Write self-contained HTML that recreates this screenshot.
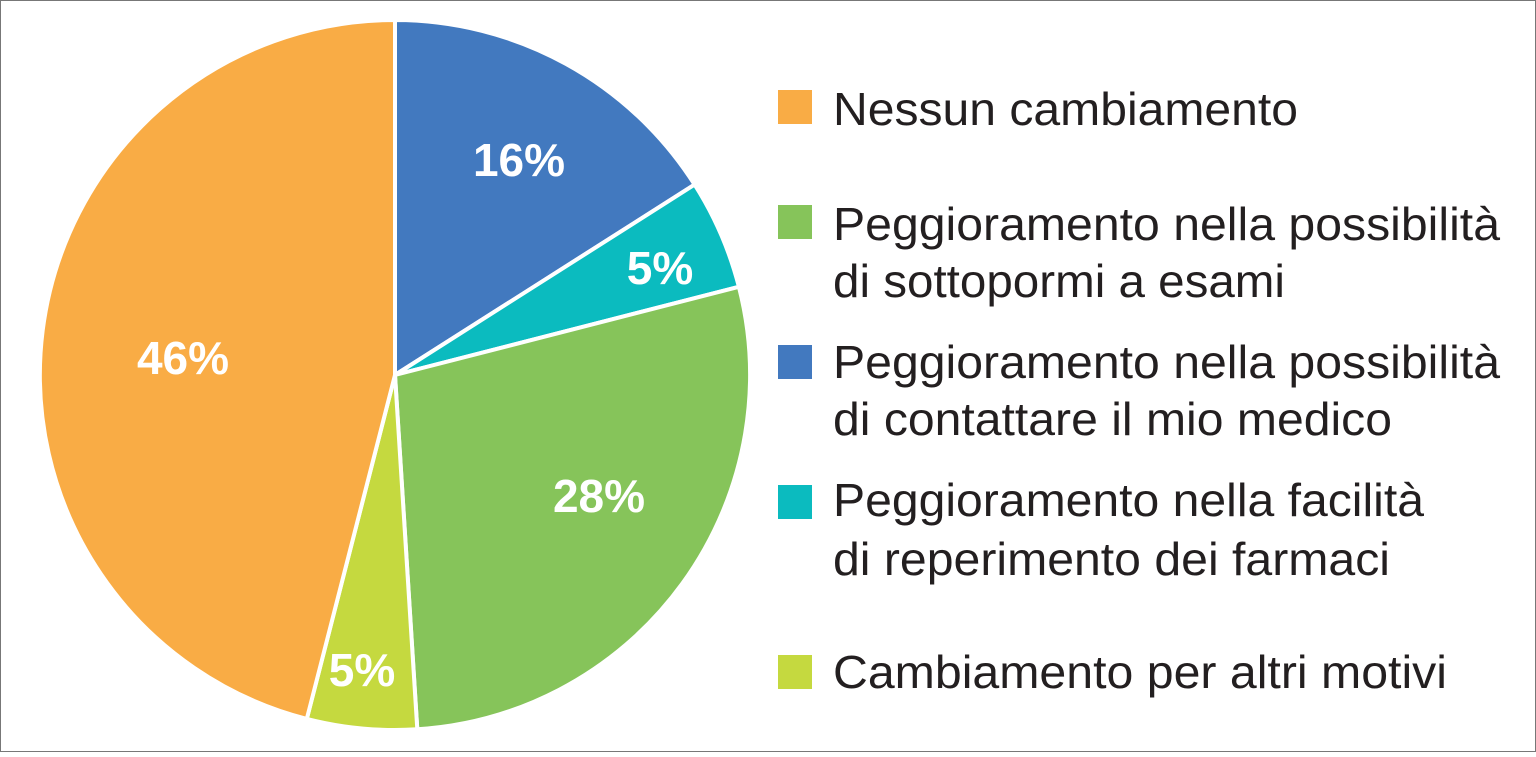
<!DOCTYPE html>
<html><head><meta charset="utf-8"><style>
html,body{margin:0;padding:0;background:#fff}
body{width:1536px;height:752px;overflow:hidden}
</style></head><body>
<svg width="1536" height="752" viewBox="0 0 1536 752" xmlns="http://www.w3.org/2000/svg" font-family="Liberation Sans, sans-serif">
<rect x="0.5" y="0.5" width="1535" height="751" fill="#fff" stroke="#777" stroke-width="1"/>
<g stroke="#fff" stroke-width="4" stroke-linejoin="round">
<path d="M395,375 L395,20 A355,355 0 0 1 694.6,184.6 Z" fill="#4279BF"/>
<path d="M395,375 L694.6,184.6 A355,355 0 0 1 738.9,286.8 Z" fill="#0BBBBF"/>
<path d="M395,375 L738.9,286.8 A355,355 0 0 1 417.3,729.3 Z" fill="#86C45A"/>
<path d="M395,375 L417.3,729.3 A355,355 0 0 1 306.8,718.9 Z" fill="#C5D93F"/>
<path d="M395,375 L306.8,718.9 A355,355 0 0 1 395,20 Z" fill="#F9AC45"/>
</g>
<g fill="#fff" font-weight="bold" font-size="46" text-anchor="middle">
<text x="519" y="176">16%</text>
<text x="660" y="284">5%</text>
<text x="183" y="374">46%</text>
<text x="599" y="512">28%</text>
<text x="362" y="686">5%</text>
</g>
<rect x="778" y="90" width="34" height="34" fill="#F9AC45"/>
<rect x="778" y="205" width="34" height="34" fill="#86C45A"/>
<rect x="778" y="345" width="34" height="34" fill="#4279BF"/>
<rect x="778" y="485" width="34" height="34" fill="#0BBBBF"/>
<rect x="778" y="655" width="34" height="34" fill="#C5D93F"/>
<g fill="#231F20" font-size="46">
<text x="833" y="125" textLength="465" lengthAdjust="spacingAndGlyphs">Nessun cambiamento</text>
<text x="833" y="240" textLength="667" lengthAdjust="spacingAndGlyphs">Peggioramento nella possibilità</text>
<text x="833" y="297" textLength="452" lengthAdjust="spacingAndGlyphs">di sottopormi a esami</text>
<text x="833" y="378" textLength="667" lengthAdjust="spacingAndGlyphs">Peggioramento nella possibilità</text>
<text x="833" y="435" textLength="559" lengthAdjust="spacingAndGlyphs">di contattare il mio medico</text>
<text x="833" y="516" textLength="591" lengthAdjust="spacingAndGlyphs">Peggioramento nella facilità</text>
<text x="833" y="575" textLength="557" lengthAdjust="spacingAndGlyphs">di reperimento dei farmaci</text>
<text x="833" y="688" textLength="614" lengthAdjust="spacingAndGlyphs">Cambiamento per altri motivi</text>
</g>
</svg>
</body></html>
